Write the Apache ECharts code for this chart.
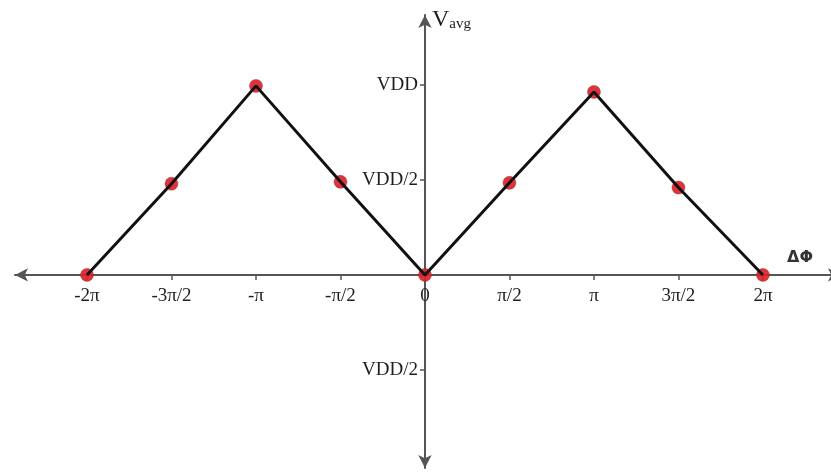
<!DOCTYPE html>
<html>
<head>
<meta charset="utf-8">
<script src="https://cdn.jsdelivr.net/npm/echarts@6/dist/echarts.min.js"></script>
<style>
  html, body { margin: 0; padding: 0; background: #ffffff; }
  #chart { width: 831px; height: 473px; }
</style>
</head>
<body>
<div id="chart"></div>
<script>
// Phase difference in units of π, and the averaged output voltage in units of VDD
const phase = [-2, -1.5, -1, -0.5, 0, 0.5, 1, 1.5, 2];
const vavg  = [0, 0.48, 0.995, 0.49, 0, 0.485, 0.963, 0.46, 0];

// Tick positions and their labels
const xTickValues = [-2, -1.5, -1, -0.5, 0, 0.5, 1, 1.5, 2];
const xTickLabels = ['-2π', '-3π/2', '-π', '-π/2', '0', 'π/2', 'π', '3π/2', '2π'];
const yTickValues = [1, 0.5, -0.5];
const yTickLabels = ['VDD', 'VDD/2', 'VDD/2'];

const points = phase.map((p, i) => [p, vavg[i]]);

const labelFont = 'Liberation Serif, Times New Roman, serif';
const axisColor = '#555555';

const GRID = { left: 15, right: -10, top: 15, bottom: 5 };

const chart = echarts.init(document.getElementById('chart'), null, { renderer: 'canvas' });

chart.setOption({
  animation: false,
  backgroundColor: '#ffffff',
  grid: Object.assign({ containLabel: false, outerBoundsMode: 'none' }, GRID),
  xAxis: {
    type: 'value',
    min: -2.426,
    max: 2.462,
    position: 'bottom',
    splitLine: { show: false },
    axisLine: {
      onZero: false,
      symbol: ['arrow', 'arrow'],
      symbolSize: [10, 13],
      lineStyle: { color: axisColor, width: 2 }
    },
    axisTick: {
      customValues: xTickValues,
      length: 5,
      lineStyle: { color: axisColor, width: 1.5 }
    },
    axisLabel: {
      customValues: xTickValues,
      margin: 12,
      fontFamily: labelFont,
      fontSize: 19,
      color: '#1e1e1e',
      formatter: v => {
        const i = xTickValues.findIndex(t => Math.abs(t - v) < 1e-6);
        return i >= 0 ? xTickLabels[i] : '';
      }
    },
    name: 'ΔΦ',
    nameLocation: 'end',
    nameGap: -41,
    nameTextStyle: {
      fontFamily: 'DejaVu Sans, sans-serif',
      fontSize: 16,
      fontWeight: 'bold',
      color: '#333',
      align: 'center',
      verticalAlign: 'bottom',
      padding: [0, 0, 9, 0]
    }
  },
  yAxis: {
    type: 'value',
    min: -1.016,
    max: 1.368,
    position: 'left',
    splitLine: { show: false },
    axisLine: {
      onZero: false,
      symbol: ['arrow', 'arrow'],
      symbolSize: [10, 13],
      lineStyle: { color: axisColor, width: 2 }
    },
    axisTick: {
      customValues: yTickValues,
      length: 5,
      lineStyle: { color: axisColor, width: 1.5 }
    },
    axisLabel: {
      customValues: yTickValues,
      margin: 7,
      fontFamily: labelFont,
      fontSize: 19,
      color: '#1e1e1e',
      formatter: v => {
        const i = yTickValues.findIndex(t => Math.abs(t - v) < 1e-6);
        return i >= 0 ? yTickLabels[i] : '';
      }
    },
    name: '{v|V}{s|avg}',
    nameLocation: 'end',
    nameGap: -5,
    nameTextStyle: {
      align: 'left',
      verticalAlign: 'middle',
      padding: [0, 0, 0, 7],
      rich: {
        v: { fontFamily: labelFont, fontSize: 24, lineHeight: 24, verticalAlign: 'top', color: '#1e1e1e' },
        s: { fontFamily: labelFont, fontSize: 15, lineHeight: 15, verticalAlign: 'bottom', padding: [13, 0, 0, 0], color: '#1e1e1e' }
      }
    }
  },
  series: [
    {
      type: 'scatter',
      data: points,
      symbol: 'circle',
      symbolSize: 13,
      z: 2,
      itemStyle: {
        color: '#dc2229',
        opacity: 0.92,
        borderColor: 'rgba(140,40,40,0.45)',
        borderWidth: 1
      }
    },
    {
      type: 'line',
      data: points,
      symbol: 'none',
      z: 3,
      lineStyle: { color: '#111111', width: 3 }
    }
  ]
});

// Move both axes so they cross at the origin, labels included
const origin = chart.convertToPixel({ gridIndex: 0 }, [0, 0]);
const gridBottom = 473 - GRID.bottom;
chart.setOption({
  xAxis: { offset: -(gridBottom - origin[1]) },
  yAxis: { offset: -(origin[0] - GRID.left) }
});
</script>
</body>
</html>
